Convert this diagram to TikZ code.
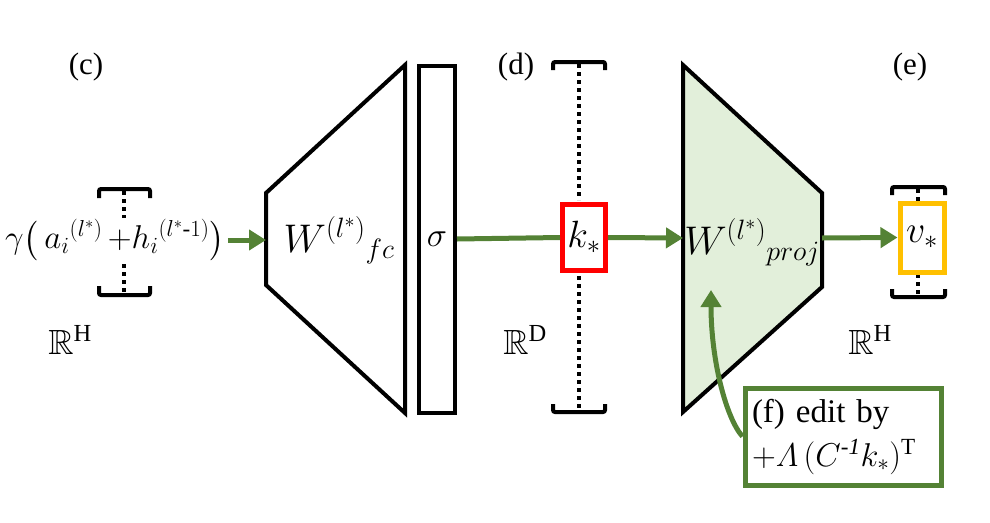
\RequirePackage{fix-cm}
\documentclass[tikz,border=0pt]{standalone}
\usepackage{amsmath,amssymb}
\usepackage{fontspec}
\setmainfont{Liberation Serif}
\usetikzlibrary{arrows.meta}
\definecolor{gr}{HTML}{548235}
\definecolor{yl}{HTML}{FFC000}
\definecolor{lg}{HTML}{E2EFDA}
\begin{document}
\begin{tikzpicture}[x=1pt,y=-1pt,
  blk/.style={line width=4pt, line join=miter},
  garrow/.style={draw=gr, line width=5pt, -{Triangle[length=17pt,width=20pt]}},
  gline/.style={draw=gr, line width=5pt},
  dotl/.style={line width=4pt, dash pattern=on 4pt off 4pt},
  brk/.style={line width=4pt, rounded corners=2pt},
  lab/.style={font=\fontsize{31}{36}\selectfont, inner sep=0pt},
  rlab/.style={font=\fontsize{35}{40}\selectfont, inner sep=0pt},
]
\useasboundingbox (0,0) rectangle (990,522);
% labels
\node[lab] (lc) at (86,67) {(c)};
\node[lab] (ld) at (516,67) {(d)};
\node[lab] (le) at (910,67) {(e)};
\node[rlab] (r1) at (70,340) {$\mathbb{R}^{\text{H}}$};
\node[rlab] (r2) at (525,340) {$\mathbb{R}^{\text{D}}$};
\node[rlab] (r3) at (870,340) {$\mathbb{R}^{\text{H}}$};
% left vector
\draw[dotl] (124,191) -- (124,218);
\draw[dotl] (124,264) -- (124,292);
\draw[brk] (99,198) -- (99,189) -- (150,189) -- (150,198);
\draw[brk] (99,286) -- (99,295) -- (150,295) -- (150,286);
\node[font=\fontsize{33}{38}\selectfont, inner sep=0pt] (in) at (115,240) {$\gamma\bigl(\,a_i{}^{(l^*)}\,{+}h_i{}^{(l^*\text{-}1)}\bigr)$};
% fc trapezoid
\coordinate (fcL) at (266,240);
\draw[blk] (266,193) -- (405,65) -- (405,413) -- (266,285) -- cycle;
\node[font=\fontsize{40}{46}\selectfont, inner sep=0pt] (Wfc) at (339,240) {${W^{(l^*)}}_{fc}$};
\draw[garrow] (in.east) ++(3,0) -- (fcL);
% sigma
\node[draw, line width=4pt, minimum width=36pt, minimum height=347pt, inner sep=0pt, font=\fontsize{34}{38}\selectfont] (sig) at (437,239) {$\sigma$};
% middle vector
\draw[dotl] (579,64) -- (579,200);
\draw[dotl] (579,276) -- (579,410);
\draw[brk] (553,70) -- (553,62) -- (605,62) -- (605,70);
\draw[brk] (553,404) -- (553,412) -- (605,412) -- (605,404);
\node[draw=red, fill=white, line width=5pt, minimum width=43pt, minimum height=66pt, inner sep=0pt, font=\fontsize{38}{42}\selectfont] (k) at (584,237.5) {$k_*$};
\draw[gline] (sig.east) -- (k.west);
% proj trapezoid
\coordinate (pjL) at (683,238);
\coordinate (pjR) at (822,238);
\coordinate (ftip) at (711,290);
\draw[blk, fill=lg] (683,65) -- (822,193) -- (822,287) -- (683,412) -- cycle;
\node[font=\fontsize{40}{46}\selectfont, inner sep=0pt] (Wpj) at (752,242) {${W^{(l^*)}}_{proj}$};
\draw[garrow] (k.east) -- (pjL);
% right vector
\draw[dotl] (918,189) -- (918,203);
\draw[dotl] (918,274) -- (918,295);
\draw[brk] (892,195) -- (892,187) -- (945,187) -- (945,195);
\draw[brk] (892,289) -- (892,297) -- (945,297) -- (945,289);
\node[draw=yl, fill=white, line width=5pt, minimum width=44pt, minimum height=69pt, inner sep=0pt, font=\fontsize{38}{42}\selectfont] (v) at (922,237.5) {$v_*$};
\draw[garrow] (pjR) -- (v.west);
% edit box
\node[draw=gr, fill=white, line width=5pt, text width=182pt, inner xsep=7pt, inner ysep=4pt, minimum height=97pt, align=left, font=\fontsize{33}{44}\selectfont] (f) at (843,436.5) {(f) edit by\\$+\varLambda\,(C^{\text{-}\mathit{1}}k_*)^{\text{T}}$};
\draw[garrow] (f.west) .. controls (726,418) and (711,360) .. (ftip);
\end{tikzpicture}
\end{document}
